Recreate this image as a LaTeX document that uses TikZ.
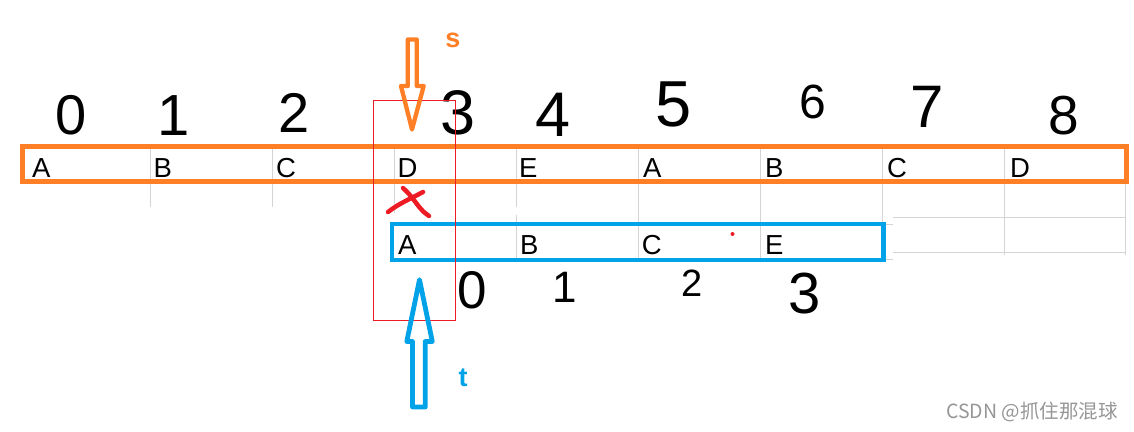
\documentclass[tikz,border=0pt]{standalone}
\usepackage{fontspec}
\setmainfont{Liberation Sans}
\newfontfamily\cjkfont{Noto Sans CJK SC}
\definecolor{porange}{RGB}{255,127,39}
\definecolor{pblue}{RGB}{0,162,232}
\definecolor{pred}{RGB}{237,28,36}
\definecolor{gridgray}{RGB}{212,212,212}
\definecolor{wmgray}{RGB}{150,150,150}
\begin{document}
\begin{tikzpicture}[x=1pt,y=-1pt,
  gridline/.style={draw=gridgray,line width=1pt},
  orangebox/.style={draw=porange,line width=4.8pt},
  bluebox/.style={draw=pblue,line width=4.5pt},
  redbox/.style={draw=pred,line width=1pt},
  redmark/.style={draw=pred,line width=4.5pt,line cap=round},
  cell/.style={anchor=base west,inner sep=0pt,font=\fontsize{27.5}{27.5}\selectfont},
  digit/.style={inner sep=0pt,anchor=center},
  ptr/.style={anchor=base,inner sep=0pt,font=\fontsize{27}{27}\selectfont\bfseries},
  blockarrow/.style={line join=round}]
\useasboundingbox (0,0) rectangle (1134,431);
\fill[white] (0,0) rectangle (1134,431);
% grid
\draw[gridline] (150,149) -- (150,207);
\draw[gridline] (272,149) -- (272,207);
\draw[gridline] (394,149) -- (394,213);
\draw[gridline] (516,149) -- (516,207);
\draw[gridline] (516,215) -- (516,258);
\draw[gridline] (638,149) -- (638,258);
\draw[gridline] (760,149) -- (760,258);
\draw[gridline] (882,149) -- (882,222);
\draw[gridline] (1004,149) -- (1004,255);
\draw[gridline] (1125,149) -- (1125,255);
\draw[gridline] (893,217) -- (1125,217);
\draw[gridline] (893,252) -- (1125,252);
\draw[gridline] (884,224) -- (893,224);
\draw[gridline] (884,259) -- (893,259);
% boxes
\draw[orangebox] (22.5,146.7) rectangle (1126.5,181.8);
\draw[bluebox] (392.2,223.8) rectangle (883.3,260);
% top row letters
\node[cell] (o0) at (32,177) {A};
\node[cell] (o1) at (153.5,177) {B};
\node[cell] (o2) at (276,177) {C};
\node[cell] (o3) at (397.5,177) {D};
\node[cell] (o4) at (519,177) {E};
\node[cell] (o5) at (643,177) {A};
\node[cell] (o6) at (765,177) {B};
\node[cell] (o7) at (887,177) {C};
\node[cell] (o8) at (1010,177) {D};
% pattern letters
\node[cell] (b0) at (398,254) {A};
\node[cell] (b1) at (520,254) {B};
\node[cell] (b2) at (641.6,254) {C};
\node[cell] (b3) at (765,254) {E};
% top indices
\node[digit,font=\fontsize{56}{56}\selectfont] (i0) at (71,115) {0};
\node[digit,font=\fontsize{58}{58}\selectfont] (i1) at (174,116) {1};
\node[digit,font=\fontsize{56}{56}\selectfont] (i2) at (294,113) {2};
\node[digit,font=\fontsize{63}{63}\selectfont] (i3) at (458,112.5) {3};
\node[digit,font=\fontsize{63}{63}\selectfont] (i4) at (553,115) {4};
\node[digit,font=\fontsize{65}{65}\selectfont] (i5) at (674,104) {5};
\node[digit,font=\fontsize{48}{48}\selectfont] (i6) at (813,102) {6};
\node[digit,font=\fontsize{60}{60}\selectfont] (i7) at (927,106.5) {7};
\node[digit,font=\fontsize{55}{55}\selectfont] (i8) at (1064,115.5) {8};
% bottom indices
\node[digit,font=\fontsize{53}{53}\selectfont] (j0) at (472,290.5) {0};
\node[digit,font=\fontsize{44}{44}\selectfont] (j1) at (565,287) {1};
\node[digit,font=\fontsize{38}{38}\selectfont] (j2) at (692,283) {2};
\node[digit,font=\fontsize{58}{58}\selectfont] (j3) at (805,293.5) {3};
% red window
\draw[redbox] (373.5,100.5) rectangle (455.5,320);
% red cross and dot
\draw[redmark] (388,212) .. controls (398,204) and (410,199) .. (423,192);
\draw[redmark] (403,188) .. controls (412,196) and (417,205) .. (421,209) .. controls (424,213) and (427,214) .. (429,216);
\fill[pred] (732.5,234) circle (2pt);
% pointer arrows
\draw[blockarrow,draw=porange,line width=4.3pt] (407.8,39.5) -- (407.8,86) -- (401,86) -- (412,129.5) -- (423.7,86) -- (416.8,86) -- (416.8,39.5) -- cycle;
\draw[blockarrow,draw=pblue,line width=4.8pt] (412.5,407) -- (412.5,341.5) -- (406.8,341.5) -- (419.5,279.7) -- (432.3,341.5) -- (425.2,341.5) -- (425.2,407) -- cycle;
\node[ptr,text=porange] (s) at (453,47) {s};
\node[ptr,text=pblue] (t) at (463,386) {t};
% watermark
\node[anchor=base east,inner sep=0pt,text=wmgray,font=\cjkfont\fontsize{19.5}{19.5}\selectfont] (wm) at (1118,418) {CSDN @抓住那混球};
\end{tikzpicture}
\end{document}
